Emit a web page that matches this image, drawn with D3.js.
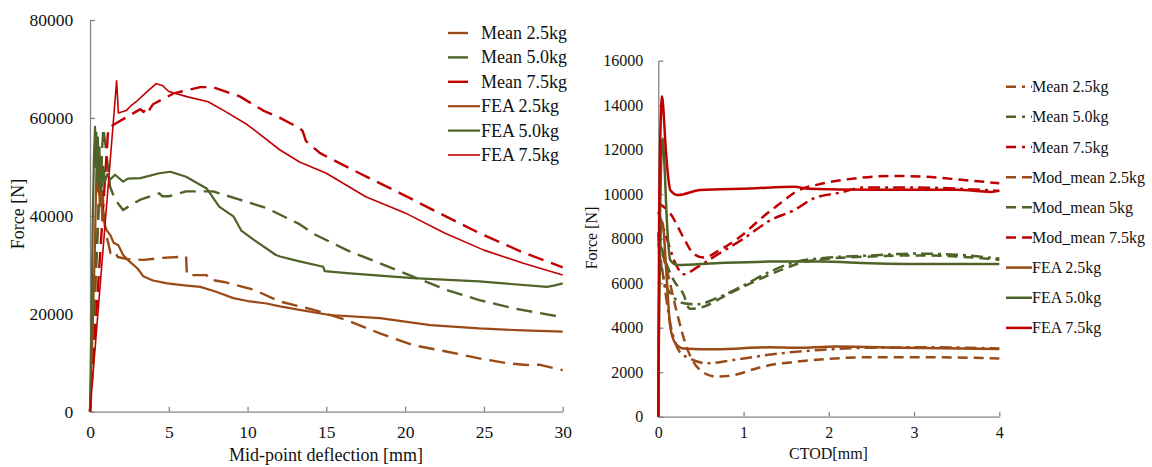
<!DOCTYPE html>
<html><head><meta charset="utf-8">
<script src="https://cdn.jsdelivr.net/npm/d3@7"></script>
<style>
html,body{margin:0;padding:0;background:#fff;}
svg{display:block;}
</style></head>
<body>
<svg id="chart" width="1152" height="467"></svg>
<script>
// ---------- LEFT CHART DATA: [mid-point deflection mm, force N] ----------
const leftXTicks = [0, 5, 10, 15, 20, 25, 30];
const leftYTicks = [0, 20000, 40000, 60000, 80000];
const leftNames = ["Mean 2.5kg", "Mean 5.0kg", "Mean 7.5kg", "FEA 2.5kg", "FEA 5.0kg", "FEA 7.5kg"];

const L_mean25 = [[0,0],[0.3,22000],[0.55,42000],[0.74,52000],[0.85,41000],[1.0,36500],[1.16,34400],[1.3,32400],[1.6,32800],[1.75,31600],[2.3,31200],[3.4,31000],[4.5,31400],[6.1,31700],[6.15,27900],[7.4,27900],[7.55,27000],[8.5,26500],[10.4,24900],[12.06,22500],[14.2,20800],[16.3,18700],[18.4,16000],[20.5,13600],[22.6,12300],[24.7,10900],[26.5,9900],[27.7,9550],[28.5,9600],[30,8500]];
const L_mean50 = [[0,0],[0.3,25000],[0.6,45000],[0.85,57900],[1.0,54000],[1.27,46000],[1.59,43300],[2.1,41200],[2.6,42200],[3.2,43300],[4.4,44600],[4.6,44000],[5.0,44000],[6.1,45000],[7.8,45000],[9.5,43300],[11.2,41600],[13.3,38300],[14.2,36300],[16.3,33000],[18.4,30300],[20.5,27600],[22.6,24900],[24.7,22800],[26.9,21100],[30,19300]];
const L_mean75 = [[0,0],[0.6,30000],[1.16,57900],[1.6,58800],[2.4,60300],[3.2,61800],[3.4,61200],[3.6,62000],[3.7,61300],[4.0,62800],[5.3,65000],[7.0,66300],[7.8,66300],[9.5,64400],[11.0,61500],[12.06,60000],[13.3,57900],[13.5,57300],[13.7,55300],[14.6,52800],[17.1,48700],[19.7,44600],[22.2,40500],[24.7,36500],[27.5,32500],[30,29500]];
const L_fea25 = [[0,0],[0.15,15000],[0.3,32000],[0.4,48000],[0.45,52000],[0.5,45000],[0.55,50000],[0.62,42000],[0.7,47000],[0.78,39000],[0.85,41000],[0.95,38000],[1.05,37100],[1.3,36000],[1.5,34500],[1.8,34000],[2.1,32000],[2.5,30700],[3.0,29300],[3.4,27600],[4.0,26800],[4.9,26200],[6.0,25800],[7.0,25500],[8.0,24500],[9.1,23200],[10.0,22600],[11.2,22100],[12.06,21500],[13.3,20800],[15.2,19750],[18.4,19100],[21.6,17700],[24.7,17000],[27.5,16600],[30,16350]];
const L_fea50 = [[0,0],[0.1,20000],[0.18,40000],[0.25,52000],[0.32,58200],[0.36,50000],[0.4,57000],[0.45,47000],[0.5,56000],[0.55,46000],[0.6,54000],[0.66,45000],[0.72,52000],[0.78,46000],[0.85,50000],[0.95,47000],[1.1,48500],[1.27,47400],[1.59,48400],[2.1,47000],[2.4,47600],[3.2,47700],[4.4,48700],[5.1,49000],[6.1,48000],[7.4,45600],[8.2,41900],[9.1,39900],[9.6,37000],[10.4,35100],[11.8,32000],[12.06,31700],[13.3,30700],[14.8,29600],[14.9,28700],[16.3,28300],[20.5,27300],[24.7,26600],[29,25500],[29.5,25800],[30,26200]];
const L_fea75 = [[0,0],[1.69,67600],[1.8,61000],[2.3,61500],[2.6,62500],[3.0,63500],[3.5,65000],[4.2,67000],[4.6,66600],[5.0,65400],[6.2,64300],[7.5,63300],[8.5,61500],[10,58600],[12.06,53450],[13.3,51000],[15,48700],[17.5,43900],[20,40600],[22.5,36500],[25,33000],[27.5,30300],[30,27900]];

// ---------- RIGHT CHART DATA: [CTOD mm, force N] ----------
const rightXTicks = [0, 1, 2, 3, 4];
const rightYTicks = [0, 2000, 4000, 6000, 8000, 10000, 12000, 14000, 16000];
const rightNames = ["Mean 2.5kg", "Mean 5.0kg", "Mean 7.5kg", "Mod_mean 2.5kg", "Mod_mean 5kg", "Mod_mean 7.5kg", "FEA 2.5kg", "FEA 5.0kg", "FEA 7.5kg"];

const R_mean25 = [[0,7800],[0.05,6500],[0.14,4200],[0.25,2920],[0.37,2620],[0.57,2400],[0.88,2550],[1.27,2770],[1.62,2920],[1.9,3000],[2.48,3100],[3.2,3120],[4.0,3060]];
const R_mean50 = [[0,8200],[0.05,6400],[0.15,5500],[0.3,5100],[0.45,5050],[0.7,5350],[1.0,5900],[1.3,6500],[1.6,6950],[2.0,7150],[2.5,7250],[3.0,7330],[3.5,7280],[4.0,7100]];
const R_mean75 = [[0,9200],[0.1,8000],[0.2,6900],[0.3,6400],[0.45,6700],[0.7,7300],[1.0,8000],[1.3,8800],[1.6,9300],[1.82,9810],[2.13,10070],[2.41,10300],[3.0,10300],[3.5,10250],[4.0,10150]];
const R_mod25 = [[0,8000],[0.1,6600],[0.22,4650],[0.33,3150],[0.49,2100],[0.68,1800],[0.88,1870],[1.15,2170],[1.31,2320],[1.62,2470],[2.48,2670],[3.27,2670],[4.0,2620]];
const R_mod50 = [[0,8300],[0.04,7600],[0.18,6140],[0.29,5540],[0.37,4850],[0.53,4940],[0.76,5390],[1.08,5990],[1.47,6640],[1.7,6950],[2.0,7100],[2.5,7200],[3.0,7250],[3.5,7200],[4.0,7050]];
const R_mod75 = [[0,9600],[0.14,9140],[0.29,8090],[0.41,7340],[0.53,7150],[0.72,7490],[0.96,8090],[1.23,8990],[1.43,9590],[1.62,10120],[1.94,10490],[2.33,10720],[2.72,10820],[3.11,10790],[3.58,10640],[4.0,10490]];
const R_fea25 = [[0,0],[0.01,5000],[0.04,8800],[0.06,8500],[0.08,7400],[0.1,6140],[0.14,4050],[0.2,3300],[0.29,3070],[0.68,3030],[1.31,3120],[1.62,3100],[2.09,3150],[2.87,3100],[4.0,3040]];
const R_fea50 = [[0,0],[0.01,6000],[0.05,12500],[0.07,11500],[0.1,8850],[0.14,7040],[0.22,6820],[0.68,6900],[1.31,6970],[1.9,6970],[2.48,6900],[3.27,6860],[4.0,6860]];
const R_fea75 = [[0,0],[0.01,9000],[0.03,13500],[0.045,14400],[0.06,13800],[0.08,12500],[0.11,11000],[0.14,10190],[0.23,9960],[0.49,10190],[1.08,10260],[1.6,10340],[1.75,10250],[2.5,10200],[3.5,10200],[3.9,10100],[4.0,10150]];

// ---------- STYLE ----------
const BROWN = "#9A4A16", GREEN = "#4F6228", RED = "#C00000";
const AXIS = "#868686";
const FONT = "'Liberation Serif', 'Times New Roman', serif";

const svg = d3.select("#chart");

function axes(g, x, y, xt, yt, fs, xpad, ypad) {
  const gx = g.append("g").attr("transform", `translate(0,${y.range()[0]})`)
    .call(d3.axisBottom(x).tickValues(xt).tickSizeInner(-5).tickSizeOuter(0).tickPadding(xpad).tickFormat(d3.format("d")));
  const gy = g.append("g").attr("transform", `translate(${x.range()[0]},0)`)
    .call(d3.axisLeft(y).tickValues(yt).tickSizeInner(-5).tickSizeOuter(0).tickPadding(ypad).tickFormat(d3.format("d")));
  [gx, gy].forEach(a => {
    a.attr("font-family", FONT).attr("font-size", fs);
    a.selectAll("path,line").attr("stroke", AXIS).attr("stroke-width", 1.3);
    a.selectAll("text").attr("fill", "#111");
  });
}

// ---------- LEFT ----------
{
  const x = d3.scaleLinear().domain([0, 30]).range([90, 562.7]);
  const y = d3.scaleLinear().domain([0, 80000]).range([411.7, 20]);
  const g = svg.append("g");
  axes(g, x, y, leftXTicks, leftYTicks, 17.5, 14, 16.7);
  const line = d3.line().x(d => x(d[0])).y(d => y(d[1]));
  const series = [
    {d: L_mean25, c: BROWN, w: 2.4, dash: "16,8"},
    {d: L_mean50, c: GREEN, w: 2.4, dash: "16,8"},
    {d: L_mean75, c: RED, w: 2.4, dash: "16,8"},
    {d: L_fea25, c: BROWN, w: 2.2, dash: null},
    {d: L_fea50, c: GREEN, w: 2.2, dash: null},
    {d: L_fea75, c: RED, w: 1.6, dash: null}
  ];
  series.forEach(s => {
    g.append("path").attr("d", line(s.d)).attr("fill", "none").attr("stroke", s.c)
      .attr("stroke-width", s.w).attr("stroke-dasharray", s.dash).attr("stroke-linejoin", "round");
  });
  // legend
  const lg = g.append("g");
  leftNames.forEach((n, i) => {
    const yy = 33 + i * 24.4;
    const s = series[i];
    if (i < 3) lg.append("line").attr("x1", 448).attr("x2", 468).attr("y1", yy).attr("y2", yy)
      .attr("stroke", s.c).attr("stroke-width", 2.4);
    else lg.append("line").attr("x1", 448).attr("x2", 480).attr("y1", yy).attr("y2", yy)
      .attr("stroke", s.c).attr("stroke-width", s.w);
    lg.append("text").attr("x", 481).attr("y", yy + 6).text(n)
      .attr("font-family", FONT).attr("font-size", 18).attr("fill", "#111");
  });
  g.append("text").attr("x", 326).attr("y", 461).attr("text-anchor", "middle")
    .attr("font-family", FONT).attr("font-size", 18).attr("fill", "#111").text("Mid-point deflection [mm]");
  g.append("text").attr("transform", "translate(24,214) rotate(-90)").attr("text-anchor", "middle")
    .attr("font-family", FONT).attr("font-size", 18).attr("fill", "#111").text("Force [N]");
}

// ---------- RIGHT ----------
{
  const x = d3.scaleLinear().domain([0, 4]).range([658.3, 999.3]);
  const y = d3.scaleLinear().domain([0, 16000]).range([416.7, 60.7]);
  const g = svg.append("g");
  axes(g, x, y, rightXTicks, rightYTicks, 16, 10, 15);
  const line = d3.line().x(d => x(d[0])).y(d => y(d[1])).curve(d3.curveMonotoneX);
  const DD = "12,5,3,5", DA = "10,6";
  const series = [
    {d: R_mean25, c: BROWN, dash: DD}, {d: R_mean50, c: GREEN, dash: DD}, {d: R_mean75, c: RED, dash: DD},
    {d: R_mod25, c: BROWN, dash: DA}, {d: R_mod50, c: GREEN, dash: DA}, {d: R_mod75, c: RED, dash: DA},
    {d: R_fea25, c: BROWN, dash: null}, {d: R_fea50, c: GREEN, dash: null}, {d: R_fea75, c: RED, dash: null}
  ];
  series.forEach(s => {
    g.append("path").attr("d", line(s.d)).attr("fill", "none").attr("stroke", s.c)
      .attr("stroke-width", 2.5).attr("stroke-dasharray", s.dash).attr("stroke-linejoin", "round");
  });
  const lg = g.append("g");
  rightNames.forEach((n, i) => {
    const yy = 86.7 + i * 30.15;
    const s = series[i];
    const dash = i < 3 ? "10,6,3,6" : (i < 6 ? "10,6" : null);
    lg.append("line").attr("x1", 1006).attr("x2", 1032).attr("y1", yy).attr("y2", yy)
      .attr("stroke", s.c).attr("stroke-width", 2.5).attr("stroke-dasharray", dash);
    lg.append("text").attr("x", 1032).attr("y", yy + 5.5).text(n)
      .attr("font-family", FONT).attr("font-size", 16).attr("fill", "#111");
  });
  g.append("text").attr("x", 828.5).attr("y", 459).attr("text-anchor", "middle")
    .attr("font-family", FONT).attr("font-size", 16).attr("fill", "#111").text("CTOD[mm]");
  g.append("text").attr("transform", "translate(597,238) rotate(-90)").attr("text-anchor", "middle")
    .attr("font-family", FONT).attr("font-size", 16).attr("fill", "#111").text("Force [N]");
}
</script>
</body></html>
